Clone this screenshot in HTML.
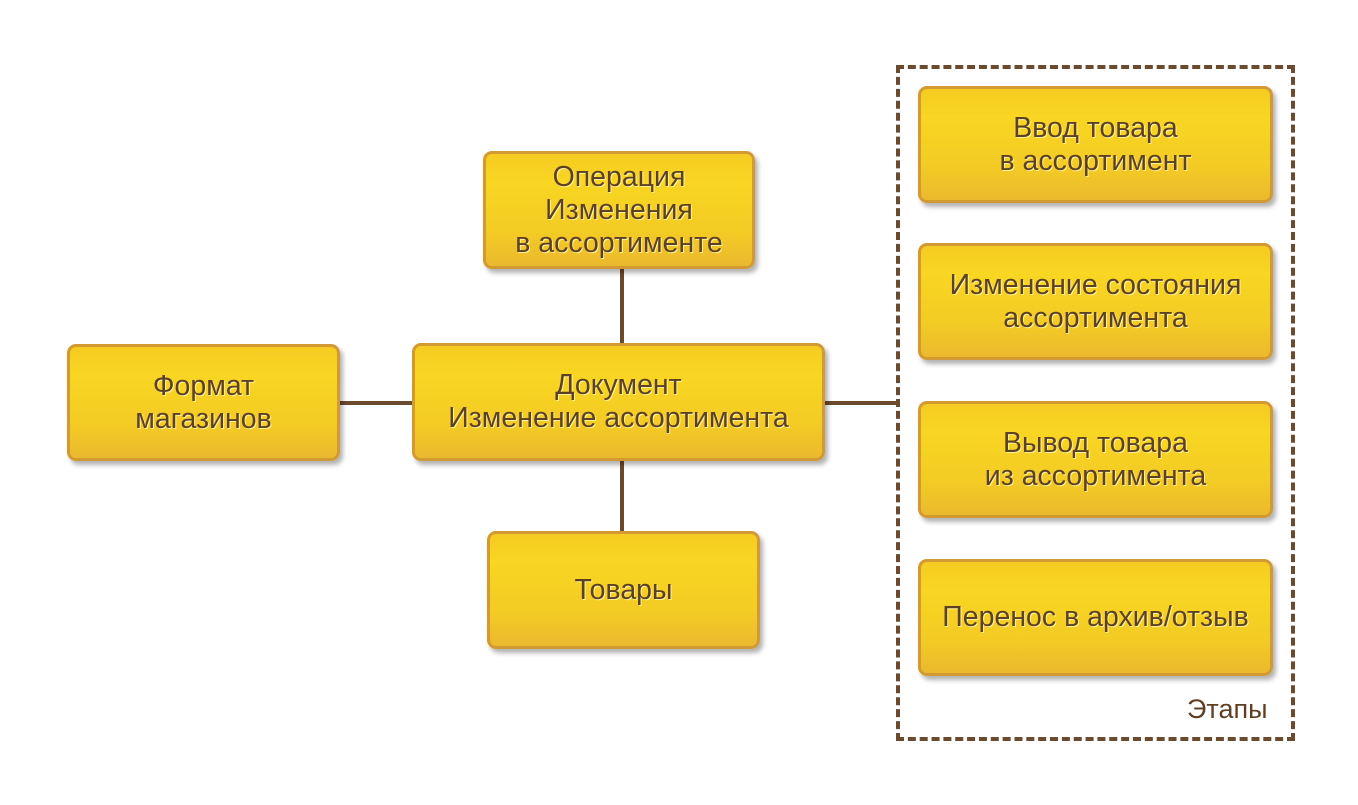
<!DOCTYPE html>
<html><head><meta charset="utf-8"><style>
body{margin:0;width:1358px;height:805px;background:#fff;position:relative;overflow:hidden;font-family:"Liberation Sans",sans-serif}
.b{position:absolute;box-sizing:border-box;border:3px solid #d39a33;border-radius:9px;background:linear-gradient(#f6cb22,#f8d622 25%,#f3cb24 70%,#ebb92e);box-shadow:3px 4px 5px rgba(0,0,0,.3);display:flex;align-items:center;justify-content:center;text-align:center;color:#5e4024;font-size:28.5px;line-height:33px;text-shadow:1px 1px 0 #fff3a0}
.l{position:absolute;background:#6b4a2e}
</style></head><body>
<div class="l" style="left:340px;top:401px;width:557px;height:4px"></div>
<div class="l" style="left:620px;top:268px;width:4px;height:265px"></div>
<div style="position:absolute;left:896px;top:65px;width:399px;height:676px;box-sizing:border-box;border:4px dashed #6b4a2e"></div>
<div class="b" style="left:483px;top:151px;width:272px;height:118px">Операция<br>Изменения<br>в ассортименте</div>
<div class="b" style="left:67px;top:344px;width:273px;height:117px">Формат<br>магазинов</div>
<div class="b" style="left:412px;top:343px;width:413px;height:118px">Документ<br>Изменение ассортимента</div>
<div class="b" style="left:487px;top:531px;width:273px;height:118px">Товары</div>
<div class="b" style="left:918px;top:86px;width:355px;height:117px">Ввод товара<br>в ассортимент</div>
<div class="b" style="left:918px;top:243px;width:355px;height:117px">Изменение состояния<br>ассортимента</div>
<div class="b" style="left:918px;top:401px;width:355px;height:117px">Вывод товара<br>из ассортимента</div>
<div class="b" style="left:918px;top:559px;width:355px;height:117px">Перенос в архив/отзыв</div>
<div style="position:absolute;left:1187px;top:694px;font-size:27px;color:#5e4024">Этапы</div>
</body></html>
